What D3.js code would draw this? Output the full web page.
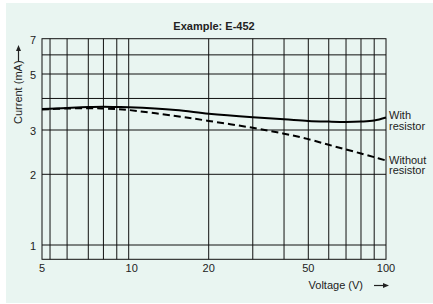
<!DOCTYPE html>
<html>
<head>
<meta charset="utf-8">
<script src="https://cdn.jsdelivr.net/npm/d3@7"></script>
<style>
  body { margin: 0; background: #fff; }
  text { font-family: "Liberation Sans", Arial, Helvetica, sans-serif; fill: #222; }
</style>
</head>
<body>
<svg width="433" height="304"></svg>
<script>
// tick labels and grid values
var xTicks = [5, 10, 20, 50, 100];
var xGrid = [5.3, 6, 7, 8, 9, 10, 20, 30, 40, 50, 60, 70, 80, 90];
var yTicks = [1, 2, 3, 5, 7];
var yGrid = [1, 2, 3, 4, 5, 6];

// series
var voltage    = [5, 6, 7, 8, 9, 10, 15, 20, 30, 40, 50, 60, 70, 80, 90, 100];
var withRes    = [3.63, 3.67, 3.70, 3.71, 3.70, 3.69, 3.60, 3.48, 3.37, 3.31, 3.26, 3.24, 3.23, 3.24, 3.27, 3.36];
var withoutRes = [3.62, 3.65, 3.66, 3.65, 3.63, 3.60, 3.41, 3.26, 3.06, 2.90, 2.76, 2.62, 2.51, 2.42, 2.34, 2.27];

var svg = d3.select("svg");

svg.append("rect")
    .attr("x", 6).attr("y", 3)
    .attr("width", 427).attr("height", 300)
    .attr("fill", "#e9f5f1");

// the printed axes are not quite logarithmic, so the scales are pinned at a few values
var x = d3.scaleLog()
    .domain([5, 7, 10, 20, 50, 100])
    .range([42, 88.3, 128.7, 208.7, 308.3, 386]);

var y = d3.scaleLog()
    .domain([0.87, 1, 2, 3, 5, 7])
    .range([259.3, 245, 174.3, 130, 74, 38.7]);

var plotL = x(5), plotR = x(100), plotT = y(7), plotB = y(0.87);

var grid = svg.append("g")
    .attr("stroke", "#111")
    .attr("stroke-width", 1);

grid.selectAll(".vx")
    .data(xGrid)
    .enter().append("line")
    .attr("x1", function(d) { return x(d); })
    .attr("x2", function(d) { return x(d); })
    .attr("y1", plotT)
    .attr("y2", plotB);

grid.selectAll(".hy")
    .data(yGrid)
    .enter().append("line")
    .attr("x1", plotL)
    .attr("x2", plotR)
    .attr("y1", function(d) { return y(d); })
    .attr("y2", function(d) { return y(d); });

grid.append("rect")
    .attr("x", plotL).attr("y", plotT)
    .attr("width", plotR - plotL).attr("height", plotB - plotT)
    .attr("fill", "none");

// tick labels
svg.append("g")
    .selectAll("text")
    .data(xTicks)
    .enter().append("text")
    .attr("x", function(d) { return x(d) + (d === 10 ? 3 : 0); })
    .attr("y", 272)
    .attr("text-anchor", "middle")
    .attr("font-size", 11)
    .text(function(d) { return d; });

svg.append("g")
    .selectAll("text")
    .data(yTicks)
    .enter().append("text")
    .attr("x", 36)
    .attr("y", function(d) { return y(d) + 5; })
    .attr("text-anchor", "end")
    .attr("font-size", 11)
    .text(function(d) { return d; });

// curves
var line = d3.line()
    .x(function(d) { return x(d[0]); })
    .y(function(d) { return y(d[1]); })
    .curve(d3.curveCatmullRom.alpha(0.5));

svg.append("path")
    .datum(d3.zip(voltage, withRes))
    .attr("d", line)
    .attr("fill", "none")
    .attr("stroke", "#000")
    .attr("stroke-width", 2);

svg.append("path")
    .datum(d3.zip(voltage, withoutRes))
    .attr("d", line)
    .attr("fill", "none")
    .attr("stroke", "#000")
    .attr("stroke-width", 2)
    .attr("stroke-dasharray", "7,4");

// series labels
function label(lines, yy) {
    var t = svg.append("text")
        .attr("x", 389)
        .attr("y", yy)
        .attr("font-size", 11);
    lines.forEach(function(s, i) {
        t.append("tspan").attr("x", 389).attr("dy", i ? 10.5 : 0).text(s);
    });
}
label(["With", "resistor"], 119);
label(["Without", "resistor"], 163.5);

// title
svg.append("text")
    .attr("x", (plotL + plotR) / 2)
    .attr("y", 30)
    .attr("text-anchor", "middle")
    .attr("font-size", 11)
    .attr("font-weight", "bold")
    .text("Example: E-452");

// axis titles with arrows
svg.append("text")
    .attr("x", 363)
    .attr("y", 289)
    .attr("text-anchor", "end")
    .attr("font-size", 11)
    .text("Voltage (V)");

svg.append("line")
    .attr("x1", 374).attr("x2", 384)
    .attr("y1", 285.5).attr("y2", 285.5)
    .attr("stroke", "#222").attr("stroke-width", 1.2);
svg.append("path")
    .attr("d", "M389,285.5 L383,283 L383,288 Z")
    .attr("fill", "#222");

svg.append("text")
    .attr("transform", "translate(22,124) rotate(-90)")
    .attr("font-size", 11)
    .text("Current (mA)");

svg.append("line")
    .attr("x1", 18.5).attr("x2", 18.5)
    .attr("y1", 61).attr("y2", 50)
    .attr("stroke", "#222").attr("stroke-width", 1.2);
svg.append("path")
    .attr("d", "M18.5,45 L16,51 L21,51 Z")
    .attr("fill", "#222");
</script>
</body>
</html>
